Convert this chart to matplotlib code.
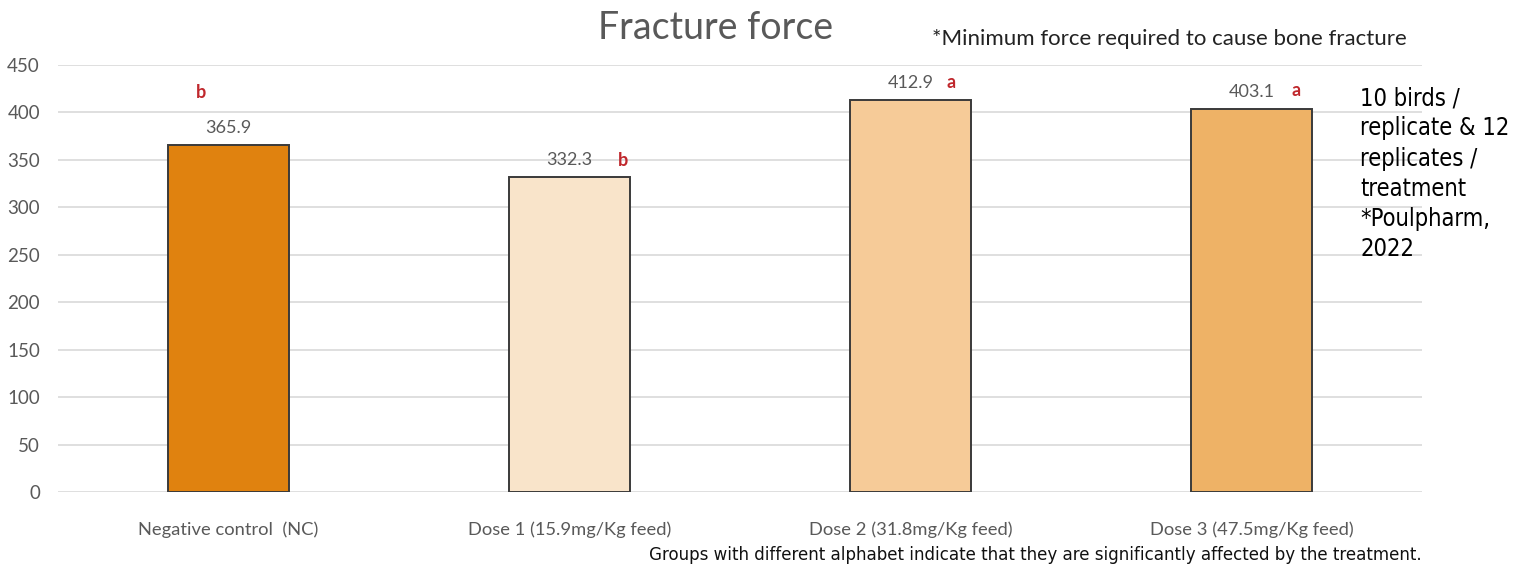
import numpy as np
import matplotlib.pyplot as plt

# Chart data
groups = ['Negative control  (NC)', 'Dose 1 (15.9mg/Kg feed)',
          'Dose 2 (31.8mg/Kg feed)', 'Dose 3 (47.5mg/Kg feed)']
force = [365.9, 332.3, 412.9, 403.1]
letters = ['b', 'b', 'a', 'a']
yticks = [0, 50, 100, 150, 200, 250, 300, 350, 400, 450]

# Styling
bar_colors = ['#E0820F', '#F9E4CA', '#F6CB98', '#EEB266']
letter_offsets = [(-27, 52), (54, 16), (41, 18), (45, 19)]  # pixels from bar top centre
gray = '#595959'
red = '#C0282D'
font = 'Lato'

fig = plt.figure(figsize=(15.13, 5.72), dpi=100)
ax = fig.add_axes([0.0383, 0.1399, 0.9015, 0.7465])

x = np.arange(len(groups))
ax.bar(x, force, width=0.355, color=bar_colors, edgecolor='#3a3a3a',
       linewidth=1.4, zorder=3)

ax.set_xlim(-0.5, 3.5)
ax.set_ylim(0, 450)
ax.set_yticks(yticks)
ax.set_xticks(x)
ax.set_xticklabels(groups, fontsize=13.2, color=gray, family=font)
ax.set_yticklabels([str(v) for v in yticks], fontsize=13.5, color=gray, family=font)
ax.tick_params(length=0)
ax.tick_params(axis='x', pad=21)
ax.tick_params(axis='y', pad=13)
ax.grid(axis='y', color='#d9d9d9', linewidth=1.2, zorder=0)
for s in ax.spines.values():
    s.set_visible(False)

# value labels and significance letters
px = 72 / fig.dpi
for xi, v, lt, (dx, dy) in zip(x, force, letters, letter_offsets):
    ax.annotate(f'{v:.1f}', (xi, v), xytext=(0, 17 * px), textcoords='offset points',
                ha='center', va='center', fontsize=13, color=gray, family=font)
    ax.annotate(lt, (xi, v), xytext=(dx * px, dy * px), textcoords='offset points',
                ha='center', va='center', fontsize=13, color=red,
                fontweight='bold', family=font)

fig.text(716 / 1513, 1 - 28 / 572, 'Fracture force', ha='center', va='center',
         fontsize=27, color=gray, family=font)
fig.text(1407 / 1513, 1 - 39 / 572, '*Minimum force required to cause bone fracture',
         ha='right', va='center', fontsize=16, color='#222222', family=font)

# condensed notes
fig.text(1360 / 1513, 1 - 86 / 572,
         '10 birds /\nreplicate & 12\nreplicates /\ntreatment\n*Poulpharm,\n2022',
         ha='left', va='top', fontsize=17, color='black', family='DejaVu Sans',
         fontstretch='condensed', linespacing=1.33)

fig.text(1422 / 1513, 1 - 555 / 572,
         'Groups with different alphabet indicate that they are significantly affected by the treatment.',
         ha='right', va='center', fontsize=13.3, color='#111111', family='DejaVu Sans',
         fontstretch='condensed')

fig.savefig('out.png', dpi=100)
